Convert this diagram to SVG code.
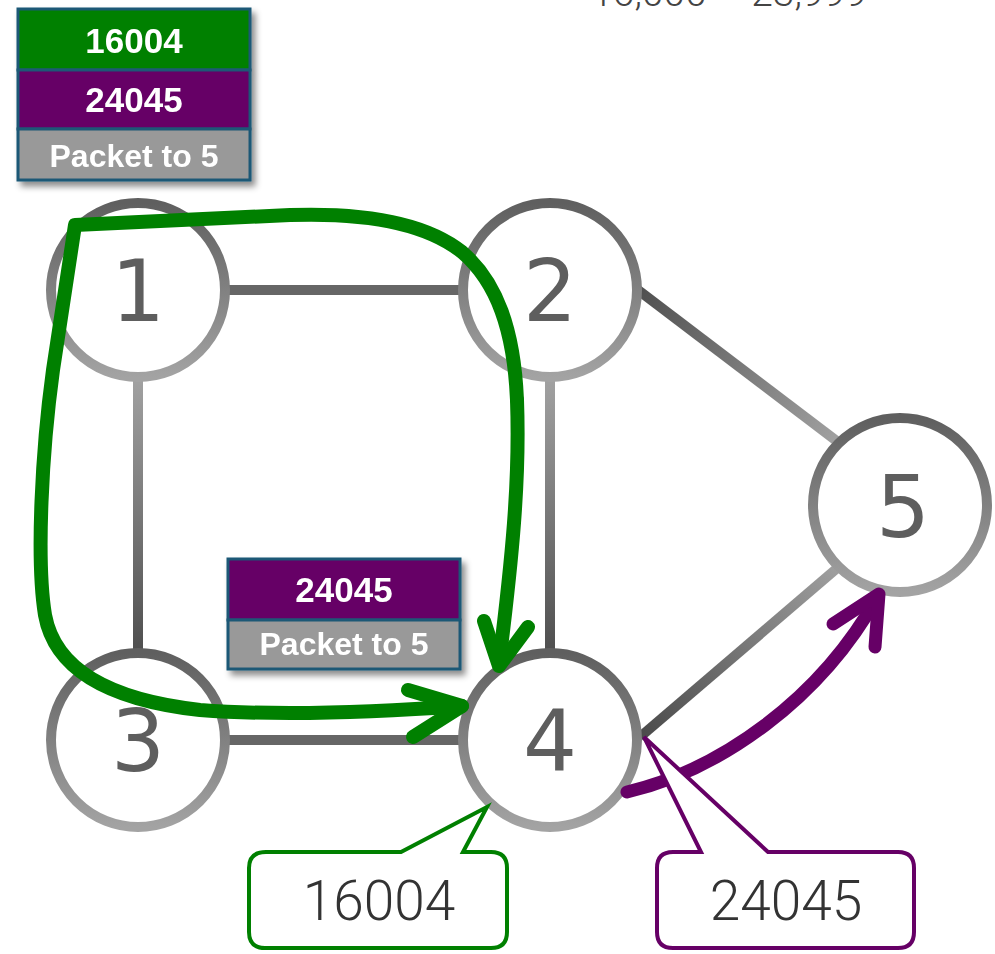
<svg xmlns="http://www.w3.org/2000/svg" width="995" height="954" viewBox="0 0 995 954">
<defs>
<linearGradient id="ring" x1="0" y1="0" x2="0" y2="1">
<stop offset="0" stop-color="#5f5f5f"/><stop offset="1" stop-color="#a3a3a3"/>
</linearGradient>
<linearGradient id="g13" gradientUnits="userSpaceOnUse" x1="0" y1="383" x2="0" y2="648">
<stop offset="0" stop-color="#a0a0a0"/><stop offset="1" stop-color="#505050"/>
</linearGradient>
<linearGradient id="g25" gradientUnits="userSpaceOnUse" x1="640" y1="290" x2="835" y2="440">
<stop offset="0" stop-color="#505050"/><stop offset="1" stop-color="#a0a0a0"/>
</linearGradient>
<linearGradient id="g45" gradientUnits="userSpaceOnUse" x1="640" y1="737" x2="840" y2="565">
<stop offset="0" stop-color="#4a4a4a"/><stop offset="1" stop-color="#a0a0a0"/>
</linearGradient>
<filter id="sh" x="-10%" y="-10%" width="130%" height="130%">
<feDropShadow dx="4" dy="5" stdDeviation="3" flood-color="#000" flood-opacity="0.45"/>
</filter>
</defs>
<style>
.ring{fill:#fff;stroke:url(#ring);stroke-width:10}
.num{font-family:"DejaVu Sans",sans-serif;font-size:85px;fill:#5e5e5e;text-anchor:middle}
.edge{fill:none;stroke-width:10}
.hdr{stroke:#1c5876;stroke-width:3}
.ht{font-family:"Liberation Sans",Arial,sans-serif;font-weight:bold;fill:#fff;text-anchor:middle}
.green{fill:none;stroke:#008000;stroke-width:14;stroke-linecap:round;stroke-linejoin:round}
.purple{fill:none;stroke:#660066;stroke-width:13;stroke-linecap:round;stroke-linejoin:round}
.call{fill:#fff;stroke-width:4;stroke-linejoin:miter}
.ct{font-family:Roboto,"Liberation Sans",sans-serif;font-weight:300;font-size:55px;fill:#333;text-anchor:middle}
</style>
<rect width="995" height="954" fill="#fff"/>
<text x="729" y="6" font-family="Roboto, 'Liberation Sans', sans-serif" font-weight="300" font-size="39" fill="#444" text-anchor="middle">16,000 – 23,999</text>
<g id="connectors">
<line class="edge" x1="228" y1="290" x2="460" y2="290" stroke="#666"/>
<line class="edge" x1="138" y1="380" x2="138" y2="650" stroke="url(#g13)"/>
<line class="edge" x1="550" y1="380" x2="550" y2="650" stroke="url(#g13)"/>
<line class="edge" x1="228" y1="740" x2="460" y2="740" stroke="#666"/>
<line class="edge" x1="638" y1="290" x2="838" y2="442" stroke="url(#g25)"/>
<line class="edge" x1="640" y1="737" x2="842" y2="564" stroke="url(#g45)"/>
</g>
<g id="node1"><circle class="ring" cx="138" cy="290" r="87"/><text class="num" x="138" y="321">1</text></g>
<g id="node2"><circle class="ring" cx="550" cy="290" r="87"/><text class="num" x="550" y="321">2</text></g>
<g id="node3"><circle class="ring" cx="138" cy="740" r="87"/><text class="num" x="138" y="771">3</text></g>
<g id="node4"><circle class="ring" cx="550" cy="740" r="87"/><text class="num" x="550" y="771">4</text></g>
<g id="node5"><circle class="ring" cx="900" cy="505" r="87"/><text class="num" x="903" y="537">5</text></g>
<g id="paths">
<path class="green" d="M 517,400 C 514,330 497,282 462,252 C 432,228 380,212 290,215 L 75,225 L 53,370 C 42,450 36,560 45,615 C 55,670 110,700 200,710 C 280,716 380,712 462,706"/>
<polyline class="green" points="408,690 462,706 413,737"/>
<path class="green" d="M 517,400 C 520,480 512,560 499,664"/>
<polyline class="green" points="484,621 499,666 528,627"/>
<path class="purple" d="M 627,792 C 720,770 820,700 878,596"/>
<polyline class="purple" points="833,624 879,594 875,647"/>
</g>
<g id="stack1" filter="url(#sh)">
<rect class="hdr" x="18" y="9" width="232" height="61" fill="#008000"/>
<rect class="hdr" x="18" y="70" width="232" height="59" fill="#660066"/>
<rect class="hdr" x="18" y="129" width="232" height="51" fill="#999"/>
<text class="ht" x="134" y="53" font-size="35">16004</text>
<text class="ht" x="134" y="112" font-size="35">24045</text>
<text class="ht" x="134" y="167" font-size="32">Packet to 5</text>
</g>
<g id="stack2" filter="url(#sh)">
<rect class="hdr" x="228" y="559" width="232" height="61" fill="#660066"/>
<rect class="hdr" x="228" y="620" width="232" height="49" fill="#999"/>
<text class="ht" x="344" y="602" font-size="35">24045</text>
<text class="ht" x="344" y="655" font-size="32">Packet to 5</text>
</g>
<g id="callout16004">
<path class="call" stroke="#008000" d="M 266,852 L 401,852 L 487,807 L 463,852 L 491,852 Q 507,852 507,868 L 507,932 Q 507,948 491,948 L 265,948 Q 249,948 249,932 L 249,868 Q 249,852 266,852 Z"/>
<text class="ct" x="379" y="920">16004</text>
</g>
<g id="callout24045">
<path class="call" stroke="#660066" d="M 673,852 L 701,852 L 644,737 L 768,852 L 898,852 Q 914,852 914,868 L 914,932 Q 914,948 898,948 L 673,948 Q 657,948 657,932 L 657,868 Q 657,852 673,852 Z"/>
<text class="ct" x="786" y="920">24045</text>
</g>
</svg>
